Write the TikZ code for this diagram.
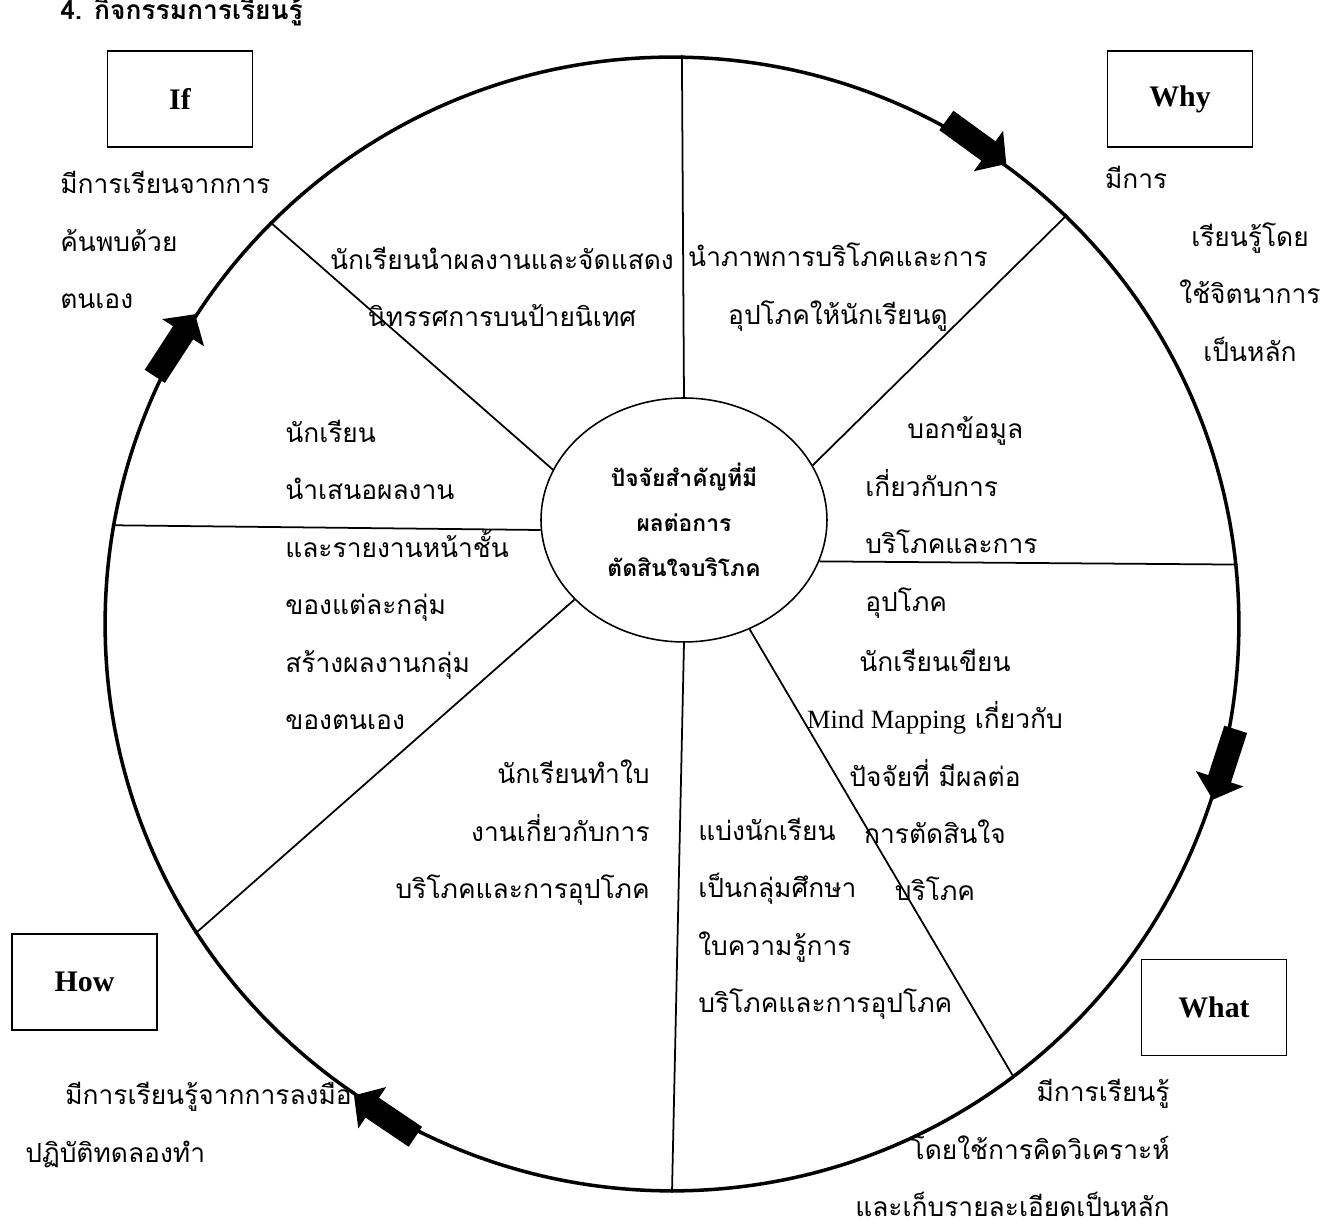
\documentclass[tikz,border=0pt]{standalone}
\usepackage{fontspec}
\setmainfont{Liberation Serif}
\newfontfamily\thaifont[Script=Thai]{Loma}
\usetikzlibrary{shapes.geometric}
\begin{document}
\begin{tikzpicture}[x=0.02cm, y=0.02cm,
    qbox/.style={draw, line width=1.1pt, minimum width=2.9cm, minimum height=1.92cm, inner sep=0pt, font=\fontsize{17}{20}\selectfont\bfseries},
    thai/.style={inner sep=0pt, font=\thaifont\fontsize{15}{32.7}\selectfont},
    spoke/.style={line width=1pt}]
    \useasboundingbox (-672,-605) rectangle (654,624);

    \node[anchor=base west, inner sep=0pt, font=\thaifont\bfseries\fontsize{15}{20}\selectfont] (title) at (-612,604) {4. กิจกรรมการเรียนรู้};

    \node[circle, draw, line width=2pt, minimum size=22.68cm, inner sep=0pt] (rim) at (0,0) {};
    \node[ellipse, draw, line width=0.9pt, minimum width=5.72cm, minimum height=4.88cm, inner sep=0pt, align=center,
          font=\thaifont\bfseries\fontsize{13}{25.6}\selectfont] (hub) at (12,104) {ปัจจัยสำคัญที่มี\\ผลต่อการ\\ตัดสินใจบริโภค};

    \draw[spoke] (hub.90) -- (rim.89);
    \draw[spoke] (hub.23) -- (rim.46.5);
    \draw[spoke] (hub.-17.5) -- (rim.6.3);
    \draw[spoke] (hub.-59.5) -- (rim.-53.3);
    \draw[spoke] (hub.-90) -- (rim.-90.7);
    \draw[spoke] (hub.216) -- (rim.213);
    \draw[spoke] (hub.184) -- (rim.170.8);
    \draw[spoke] (hub.159) -- (rim.135);

    \foreach \a in {54,-18,236,147}
        \fill[shift={(rim.\a)}, rotate=\a-90] (0,0) -- (-22,25) -- (-22,12) -- (-74,12) -- (-74,-12) -- (-22,-12) -- (-22,-25) -- cycle;

    \node[qbox] (ifbox) at (-492,525) {If};
    \node[qbox] (whybox) at (508,525) {Why};
    \node[qbox] (howbox) at (-587.5,-358) {How};
    \node[qbox] (whatbox) at (542,-383.5) {What};

    \node[thai, anchor=west, align=left] (iftext) at (-612,384) {มีการเรียนจากการ\\ค้นพบด้วย\\ตนเอง};
    \node[thai, align=center] (whytext) at (578,360) {\makebox[5.8cm][l]{มีการ}\\เรียนรู้โดย\\ใช้จิตนาการ\\เป็นหลัก};
    \node[thai, anchor=west, align=left] (howtext) at (-647,-501) {\hspace*{0.8cm}มีการเรียนรู้จากการลงมือ\\ปฏิบัติทดลองทำ};
    \node[thai, anchor=east, align=right] (whattext) at (498,-524) {มีการเรียนรู้\\โดยใช้การคิดวิเคราะห์\\และเก็บรายละเอียดเป็นหลัก};

    \node[thai, align=center] (showtext) at (-170,337) {นักเรียนนำผลงานและจัดแสดง\\นิทรรศการบนป้ายนิเทศ};
    \node[thai, align=center] (picturetext) at (166,337) {นำภาพการบริโภคและการ\\อุปโภคให้นักเรียนดู};
    \node[thai, anchor=west, align=left] (telltext) at (193,106.5) {\hspace*{0.84cm}บอกข้อมูล\\เกี่ยวกับการ\\บริโภคและการ\\อุปโภค};
    \node[thai, align=center] (mindtext) at (263,-151) {นักเรียนเขียน\\{\rmfamily Mind Mapping} เกี่ยวกับ\\ปัจจัยที่ มีผลต่อ\\การตัดสินใจ\\บริโภค};
    \node[thai, anchor=west, align=left] (presenttext) at (-387,49) {นักเรียน\\นำเสนอผลงาน\\และรายงานหน้าชั้น\\ของแต่ละกลุ่ม\\สร้างผลงานกลุ่ม\\ของตนเอง};
    \node[thai, anchor=east, align=right] (sheettext) at (-22,-209) {นักเรียนทำใบ\\งานเกี่ยวกับการ\\บริโภคและการอุปโภค};
    \node[thai, anchor=west, align=left] (grouptext) at (26,-295) {แบ่งนักเรียน\\เป็นกลุ่มศึกษา\\ใบความรู้การ\\บริโภคและการอุปโภค};
\end{tikzpicture}
\end{document}
